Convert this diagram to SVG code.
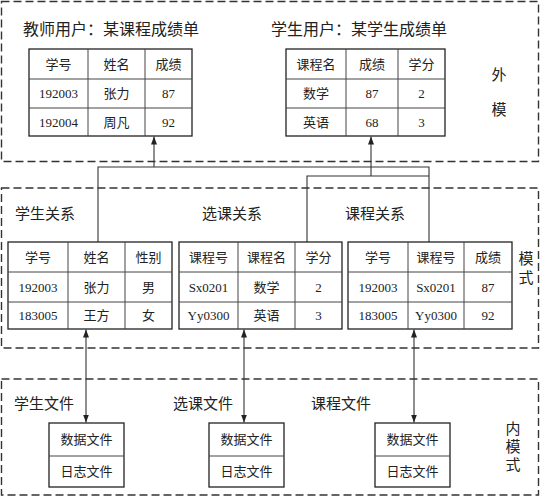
<svg xmlns="http://www.w3.org/2000/svg" width="540" height="497" viewBox="0 0 540 497">
<style>
text{font-family:"Liberation Serif","Noto Sans CJK SC",serif;fill:#222;}
.t{font-size:13px;text-anchor:middle;dominant-baseline:central;}
.lab{font-size:15px;dominant-baseline:central;}
.title{font-size:16px;dominant-baseline:central;}
.side{font-size:15px;text-anchor:middle;dominant-baseline:central;}
.zone{fill:none;stroke:#333;stroke-width:1.4;stroke-dasharray:8 4;}
.tbl{fill:#fff;stroke:#222;stroke-width:1.3;}
.grid{stroke:#444;stroke-width:1;fill:none;}
.con{fill:none;stroke:#333;stroke-width:1.1;}
</style>
<defs>
<marker id="arr" viewBox="0 0 8 6" markerWidth="8" markerHeight="6" refX="8" refY="3" orient="auto-start-reverse" markerUnits="userSpaceOnUse">
<path d="M0,0 L8,3 L0,6 z" fill="#222"/>
</marker>
</defs>
<rect width="540" height="497" fill="#fff"/>

<g id="zones">
<rect class="zone" x="1.5" y="1.5" width="537" height="160"/>
<rect class="zone" x="1.5" y="188" width="537" height="160"/>
<rect class="zone" x="1.5" y="379" width="537" height="116"/>
<text class="side" x="499" y="75">外</text>
<text class="side" x="499" y="110">模</text>
<text class="side" x="526" y="259">模</text>
<text class="side" x="526" y="278">式</text>
<text class="side" x="513" y="429">内</text>
<text class="side" x="513" y="447">模</text>
<text class="side" x="513" y="465">式</text>
</g>

<g id="connectors">
<path class="con" d="M98,242 V167 H429 V242"/>
<path class="con" d="M307,242 V176 H429"/>
<path class="con" d="M154,167 V136.5" marker-end="url(#arr)"/>
<path class="con" d="M371,176 V136.5" marker-end="url(#arr)"/>
<path class="con" d="M86,329.5 V422.5" marker-start="url(#arr)" marker-end="url(#arr)"/>
<path class="con" d="M244,329.5 V422.5" marker-start="url(#arr)" marker-end="url(#arr)"/>
<path class="con" d="M414,329.5 V422.5" marker-start="url(#arr)" marker-end="url(#arr)"/>
</g>

<g id="teacher-view">
<text class="title" x="23" y="29">教师用户：某课程成绩单</text>
<rect class="tbl" x="29" y="49" width="163" height="87"/>
<path class="grid" d="M88,49 V136 M145,49 V136 M29,79 H192 M29,108 H192"/>
<text class="t" x="58.5" y="64">学号</text><text class="t" x="116.5" y="64">姓名</text><text class="t" x="168.5" y="64">成绩</text>
<text class="t" x="58.5" y="93.5">192003</text><text class="t" x="116.5" y="93.5">张力</text><text class="t" x="168.5" y="93.5">87</text>
<text class="t" x="58.5" y="122">192004</text><text class="t" x="116.5" y="122">周凡</text><text class="t" x="168.5" y="122">92</text>
</g>

<g id="student-view">
<text class="title" x="271" y="29">学生用户：某学生成绩单</text>
<rect class="tbl" x="286" y="49" width="159" height="87"/>
<path class="grid" d="M346,49 V136 M398,49 V136 M286,79 H445 M286,108 H445"/>
<text class="t" x="316" y="64">课程名</text><text class="t" x="372" y="64">成绩</text><text class="t" x="421.5" y="64">学分</text>
<text class="t" x="316" y="93.5">数学</text><text class="t" x="372" y="93.5">87</text><text class="t" x="421.5" y="93.5">2</text>
<text class="t" x="316" y="122">英语</text><text class="t" x="372" y="122">68</text><text class="t" x="421.5" y="122">3</text>
</g>

<g id="student-relation">
<text class="lab" x="15" y="214">学生关系</text>
<rect class="tbl" x="8" y="242" width="164" height="87"/>
<path class="grid" d="M68,242 V329 M125,242 V329 M8,272 H172 M8,302 H172"/>
<text class="t" x="38" y="257">学号</text><text class="t" x="96.5" y="257">姓名</text><text class="t" x="148.5" y="257">性别</text>
<text class="t" x="38" y="287">192003</text><text class="t" x="96.5" y="287">张力</text><text class="t" x="148.5" y="287">男</text>
<text class="t" x="38" y="315.5">183005</text><text class="t" x="96.5" y="315.5">王方</text><text class="t" x="148.5" y="315.5">女</text>
</g>

<g id="course-selection-relation">
<text class="lab" x="202" y="214">选课关系</text>
<rect class="tbl" x="179" y="242" width="163" height="87"/>
<path class="grid" d="M238,242 V329 M295,242 V329 M179,272 H342 M179,302 H342"/>
<text class="t" x="208.5" y="257">课程号</text><text class="t" x="266.5" y="257">课程名</text><text class="t" x="318.5" y="257">学分</text>
<text class="t" x="208.5" y="287">Sx0201</text><text class="t" x="266.5" y="287">数学</text><text class="t" x="318.5" y="287">2</text>
<text class="t" x="208.5" y="315.5">Yy0300</text><text class="t" x="266.5" y="315.5">英语</text><text class="t" x="318.5" y="315.5">3</text>
</g>

<g id="course-relation">
<text class="lab" x="345" y="214">课程关系</text>
<rect class="tbl" x="348" y="242" width="164" height="87"/>
<path class="grid" d="M408,242 V329 M464,242 V329 M348,272 H512 M348,302 H512"/>
<text class="t" x="378" y="257">学号</text><text class="t" x="436" y="257">课程号</text><text class="t" x="488" y="257">成绩</text>
<text class="t" x="378" y="287">192003</text><text class="t" x="436" y="287">Sx0201</text><text class="t" x="488" y="287">87</text>
<text class="t" x="378" y="315.5">183005</text><text class="t" x="436" y="315.5">Yy0300</text><text class="t" x="488" y="315.5">92</text>
</g>

<g id="student-file">
<text class="lab" x="14" y="404">学生文件</text>
<rect class="tbl" x="49" y="423" width="75" height="64"/>
<path class="grid" d="M49,456 H124"/>
<text class="t" x="86.5" y="439.5">数据文件</text>
<text class="t" x="86.5" y="471.5">日志文件</text>
</g>

<g id="selection-file">
<text class="lab" x="173" y="404">选课文件</text>
<rect class="tbl" x="209" y="423" width="75" height="64"/>
<path class="grid" d="M209,456 H284"/>
<text class="t" x="246.5" y="439.5">数据文件</text>
<text class="t" x="246.5" y="471.5">日志文件</text>
</g>

<g id="course-file">
<text class="lab" x="311" y="404">课程文件</text>
<rect class="tbl" x="375" y="423" width="75" height="64"/>
<path class="grid" d="M375,456 H450"/>
<text class="t" x="412.5" y="439.5">数据文件</text>
<text class="t" x="412.5" y="471.5">日志文件</text>
</g>
</svg>
